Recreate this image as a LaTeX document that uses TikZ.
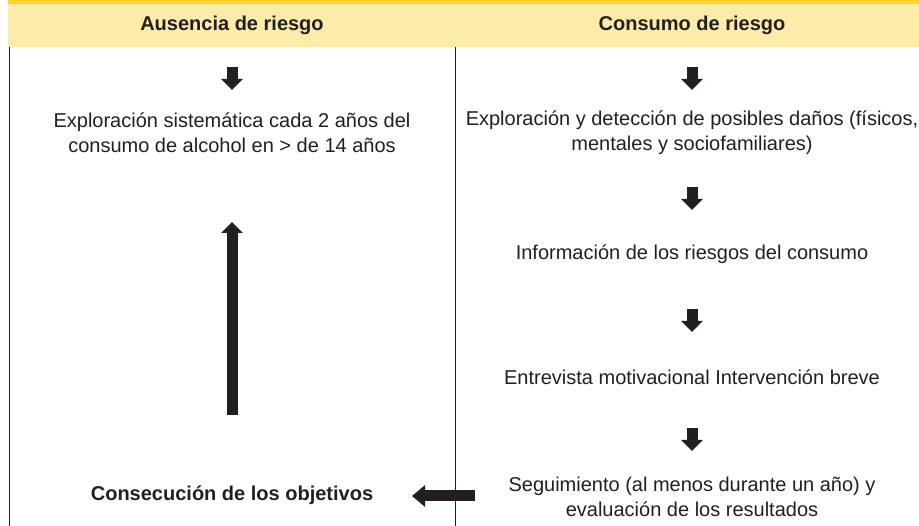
\documentclass[tikz,border=0pt]{standalone}
\usepackage{fontspec}
\setmainfont{Liberation Sans}
\usetikzlibrary{arrows.meta}

\definecolor{bandtop}{HTML}{FFD42A}
\definecolor{bandfill}{HTML}{FDEBA9}
\definecolor{ink}{HTML}{231F20}

\tikzset{
  txt/.style={text=ink,align=center,font=\fontsize{20}{25}\selectfont,inner sep=0pt},
  hdr/.style={txt,font=\fontsize{20}{25}\selectfont\bfseries},
  blockarr/.style={ink,line width=11pt,-{Triangle[width=21pt,length=11pt]}},
}

\begin{document}
\begin{tikzpicture}[x=1pt,y=-1pt]
        \useasboundingbox (0,0) rectangle (919,526);
        % header band
        \fill[bandfill] (8,0) rectangle (919,47);
        \fill[bandtop] (8,0) rectangle (919,4);
        \node[hdr] (h1) at (232,25) {Ausencia de riesgo};
        \node[hdr] (h2) at (692,25) {Consumo de riesgo};
        % column rules
        \draw[ink,line width=1pt] (9,47) -- (9,526);
        \draw[ink,line width=1pt] (455,47) -- (455,526);

        % left column
        \node[txt] (l1) at (232,133) {Exploración sistemática cada 2 años del\\consumo de alcohol en > de 14 años};
        \node[hdr] (l2) at (232,495) {Consecución de los objetivos};
        \coordinate (la) at (232,67);
        \coordinate (lb) at (232,90);
        \draw[blockarr] (la) -- (lb);
        \coordinate (ua) at (232,415);
        \coordinate (ub) at (232,222);
        \draw[blockarr] (ua) -- (ub);

        % right column
        \node[txt] (r1) at (692,133) {Exploración y detección de posibles daños (físicos,\\mentales y sociofamiliares)};
        \node[txt] (r2) at (692,254) {Información de los riesgos del consumo};
        \node[txt] (r3) at (692,377) {Entrevista motivacional Intervención breve};
        \node[txt] (r4) at (692,497) {Seguimiento (al menos durante un año) y\\evaluación de los resultados};
        \foreach \y [count=\i] in {67,187,309,428} {
            \coordinate (ra\i) at (692,\y);
            \coordinate (rb\i) at (692,\y+23);
            \draw[blockarr] (ra\i) -- (rb\i);
        }
        \coordinate (sa) at (475,496);
        \coordinate (sb) at (412,496);
        \draw[blockarr,-{Triangle[width=21pt,length=13pt]}] (sa) -- (sb);
\end{tikzpicture}
\end{document}
